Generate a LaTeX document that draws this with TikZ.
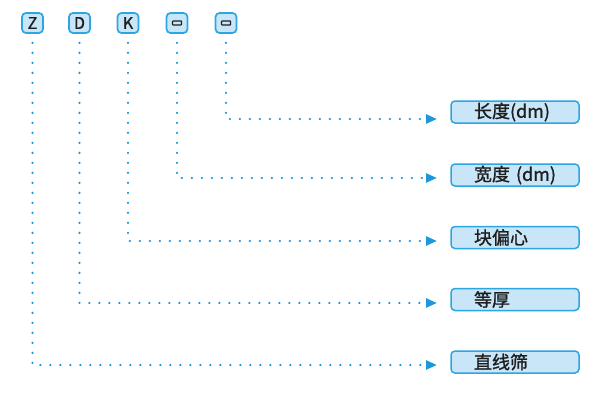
\documentclass[tikz,border=0pt]{standalone}
\usepackage{fontspec}
\setmainfont{Noto Sans CJK SC}[AutoFakeBold=1.2]
\usetikzlibrary{arrows.meta}
\definecolor{lineblue}{RGB}{30,150,220}
\definecolor{boxblue}{RGB}{45,165,225}
\definecolor{fillblue}{RGB}{200,230,248}
\definecolor{inkdark}{RGB}{30,30,30}
\tikzset{
  codebox/.style={draw=boxblue, fill=fillblue, line width=1.7pt, rounded corners=4pt,
    minimum width=21pt, minimum height=20pt, inner sep=0pt, font=\fontsize{16}{16}\selectfont\bfseries, text=inkdark},
  namebox/.style={draw=boxblue, fill=fillblue, line width=1.5pt, rounded corners=4pt,
    minimum height=22pt, text width=82pt, inner xsep=23pt, inner ysep=0pt, align=left,
    font=\fontsize{18}{18}\selectfont\bfseries, text=inkdark},
  conn/.style={draw=lineblue, line width=2.4pt, line cap=round, dash pattern=on 0pt off 10pt,
    -{Triangle[length=11pt,width=9pt,fill=lineblue]}},
  slot/.style={draw=inkdark, line width=1.2pt, rounded corners=0.6pt}
}
\begin{document}
\begin{tikzpicture}[x=1pt,y=-1pt]
\useasboundingbox (0,0) rectangle (600,404);
% top code boxes
\node[codebox] (z) at (32.5,23) {Z};
\node[codebox] (d) at (79.5,23) {D};
\node[codebox] (k) at (128,23) {K};
\node[codebox] (l) at (177,23) {};
\node[codebox] (w) at (226,23) {};
\draw[slot] ([xshift=-4.5pt,yshift=-2pt]l.center) rectangle ([xshift=4.5pt,yshift=2pt]l.center);
\draw[slot] ([xshift=-4.5pt,yshift=-2pt]w.center) rectangle ([xshift=4.5pt,yshift=2pt]w.center);
% right name boxes
\node[namebox] (r1) at (515,112) {长度(dm)};
\node[namebox] (r2) at (515,175) {宽度 (dm)};
\node[namebox] (r3) at (515,237.5) {块偏心};
\node[namebox] (r4) at (515,299.5) {等厚};
\node[namebox] (r5) at (515,362) {直线筛};
% arrow tip coordinates
\coordinate (t1) at (437,119);
\coordinate (t2) at (437,178);
\coordinate (t3) at (437,241);
\coordinate (t4) at (437,303);
\coordinate (t5) at (437,365);
% connectors
\draw[conn] ([yshift=-9pt]w.south) |- (t1);
\draw[conn] ([yshift=-9pt]l.south) |- (t2);
\draw[conn] ([yshift=-9pt]k.south) |- (t3);
\draw[conn] ([yshift=-9pt]d.south) |- (t4);
\draw[conn] ([yshift=-9pt]z.south) |- (t5);
\end{tikzpicture}
\end{document}
